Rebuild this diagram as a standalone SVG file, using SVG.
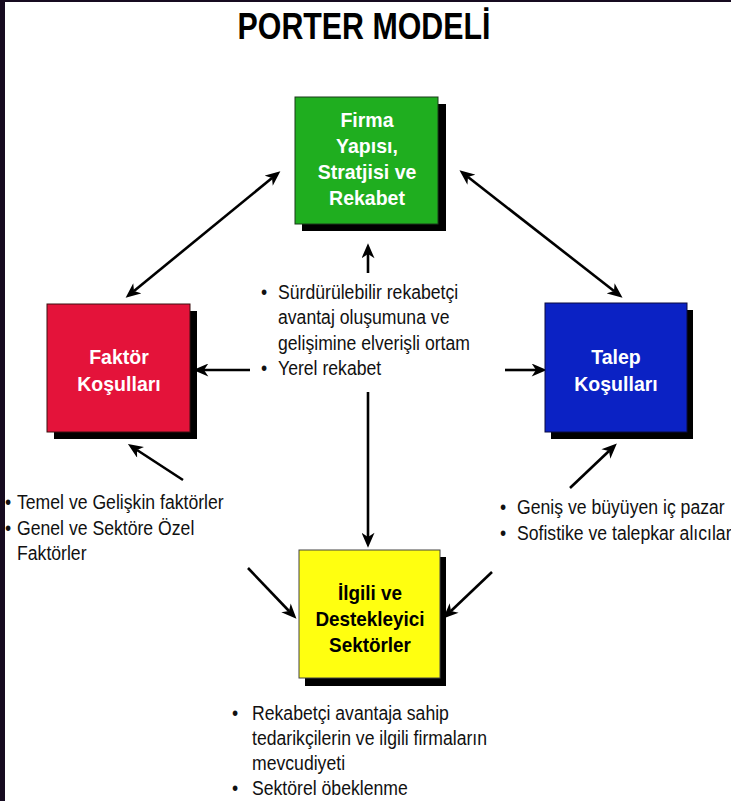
<svg xmlns="http://www.w3.org/2000/svg" width="731" height="801" viewBox="0 0 731 801">
<defs>
<style>
.t{font-family:"Liberation Sans",Arial,sans-serif;font-size:21px;fill:#111}
.b{font-family:"Liberation Sans",Arial,sans-serif;font-weight:bold;font-size:21px;text-anchor:middle}
.w{fill:#fff}
.k{fill:#000}
.sh{fill:#000}
.ln{stroke:#000;stroke-width:2.6;fill:none}
</style>
<marker id="ah2" viewBox="0 0 14 12" refX="4" refY="6" markerWidth="16" markerHeight="13" markerUnits="userSpaceOnUse" orient="auto-start-reverse">
<path d="M0,0 L14,6 L0,12 L4,6 Z" fill="#000"/>
</marker>
</defs>
<rect x="0" y="0" width="731" height="801" fill="#160b20"/>
<rect x="5" y="2" width="726" height="799" fill="#fff"/>
<text transform="translate(364,39) scale(0.82,1)" style="font-family:'Liberation Sans',Arial,sans-serif;font-weight:bold;font-size:37px;text-anchor:middle;fill:#000">PORTER MODELİ</text>

<g id="connectors">
<line class="ln" x1="272" y1="178" x2="134" y2="291" marker-start="url(#ah2)" marker-end="url(#ah2)"/>
<line class="ln" x1="468" y1="177" x2="614" y2="291" marker-start="url(#ah2)" marker-end="url(#ah2)"/>
<line class="ln" x1="368" y1="273" x2="368" y2="254" marker-end="url(#ah2)"/>
<line class="ln" x1="250" y1="370" x2="204" y2="370" marker-end="url(#ah2)"/>
<line class="ln" x1="505" y1="370" x2="536" y2="370" marker-end="url(#ah2)"/>
<line class="ln" x1="368" y1="392" x2="368" y2="537" marker-end="url(#ah2)"/>
<line class="ln" x1="183" y1="480" x2="137" y2="450" marker-end="url(#ah2)"/>
<line class="ln" x1="570" y1="488" x2="609" y2="451" marker-end="url(#ah2)"/>
<line class="ln" x1="248" y1="568" x2="289" y2="611" marker-end="url(#ah2)"/>
<line class="ln" x1="492" y1="572" x2="451" y2="611" marker-end="url(#ah2)"/>
</g>

<g id="firma">
<rect class="sh" x="302" y="104" width="144" height="127"/>
<rect x="295" y="97" width="143" height="127" fill="#1fae1f" stroke="#1a3a1a" stroke-width="1"/>
<text class="b w" transform="translate(367,127) scale(0.93,1)">Firma</text>
<text class="b w" transform="translate(367,153) scale(0.93,1)">Yapısı,</text>
<text class="b w" transform="translate(367,179) scale(0.93,1)">Stratjisi ve</text>
<text class="b w" transform="translate(367,205) scale(0.93,1)">Rekabet</text>
</g>

<g id="faktor">
<rect class="sh" x="54" y="311" width="143" height="128"/>
<rect x="47" y="304" width="143" height="128" fill="#e4133a" stroke="#3a1010" stroke-width="1"/>
<text class="b w" transform="translate(119,364) scale(0.93,1)">Faktör</text>
<text class="b w" transform="translate(119,391) scale(0.93,1)">Koşulları</text>
</g>

<g id="talep">
<rect class="sh" x="551" y="310" width="142" height="129"/>
<rect x="545" y="303" width="142" height="129" fill="#0b22c4" stroke="#0a0a40" stroke-width="1"/>
<text class="b w" transform="translate(616,364) scale(0.93,1)">Talep</text>
<text class="b w" transform="translate(616,391) scale(0.93,1)">Koşulları</text>
</g>

<g id="ilgili">
<rect class="sh" x="305" y="557" width="141" height="129"/>
<rect x="299" y="550" width="141" height="128" fill="#ffff10" stroke="#444" stroke-width="1"/>
<text class="b k" transform="translate(370,600) scale(0.9,1)">İlgili ve</text>
<text class="b k" transform="translate(370,626) scale(0.9,1)">Destekleyici</text>
<text class="b k" transform="translate(370,652) scale(0.9,1)">Sektörler</text>
</g>

<g id="center-text">
<text class="t" transform="translate(261,299) scale(0.84,1)">•</text>
<text class="t" transform="translate(278,299) scale(0.84,1)">Sürdürülebilir rekabetçi</text>
<text class="t" transform="translate(278,324) scale(0.84,1)">avantaj oluşumuna ve</text>
<text class="t" transform="translate(278,350) scale(0.84,1)">gelişimine elverişli ortam</text>
<text class="t" transform="translate(261,375) scale(0.84,1)">•</text>
<text class="t" transform="translate(278,375) scale(0.84,1)">Yerel rekabet</text>
</g>

<g id="faktor-text">
<text class="t" transform="translate(5,509) scale(0.84,1)">•</text>
<text class="t" transform="translate(17,509) scale(0.84,1)">Temel ve Gelişkin faktörler</text>
<text class="t" transform="translate(5,535) scale(0.84,1)">•</text>
<text class="t" transform="translate(17,535) scale(0.84,1)">Genel ve Sektöre Özel</text>
<text class="t" transform="translate(17,560) scale(0.84,1)">Faktörler</text>
</g>

<g id="talep-text">
<text class="t" transform="translate(500,514) scale(0.84,1)">•</text>
<text class="t" transform="translate(517,514) scale(0.84,1)">Geniş ve büyüyen iç pazar</text>
<text class="t" transform="translate(500,540) scale(0.84,1)">•</text>
<text class="t" transform="translate(517,540) scale(0.84,1)">Sofistike ve talepkar alıcılar</text>
</g>

<g id="ilgili-text">
<text class="t" transform="translate(232,720) scale(0.84,1)">•</text>
<text class="t" transform="translate(252,720) scale(0.84,1)">Rekabetçi avantaja sahip</text>
<text class="t" transform="translate(252,745) scale(0.84,1)">tedarikçilerin ve ilgili firmaların</text>
<text class="t" transform="translate(252,770) scale(0.84,1)">mevcudiyeti</text>
<text class="t" transform="translate(232,795) scale(0.84,1)">•</text>
<text class="t" transform="translate(252,795) scale(0.84,1)">Sektörel öbeklenme</text>
</g>
</svg>
